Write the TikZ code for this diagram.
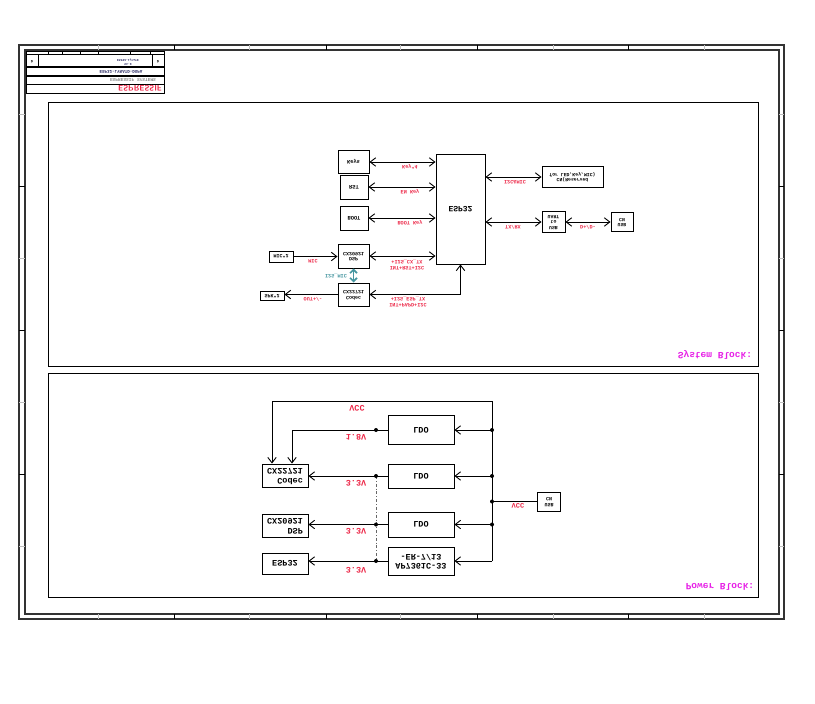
\documentclass[tikz,border=0pt]{standalone}
\usepackage{fontspec}
\usepackage{graphicx}
\usetikzlibrary{arrows.meta}
\newfontfamily\mono{Liberation Mono}
\definecolor{lred}{RGB}{236,40,72}
\definecolor{mag}{RGB}{230,30,230}
\definecolor{tealc}{RGB}{70,150,160}
\definecolor{navy}{RGB}{30,30,90}
\newcommand\upsd[1]{\scalebox{1}[-1]{#1}}
\newcommand\stk[1]{\begin{tabular}{@{}c@{}}#1\end{tabular}}
\newcommand\rstk[1]{\begin{tabular}{@{}r@{}}#1\end{tabular}}
\tikzset{
  box/.style={draw, line width=1pt, inner sep=0pt, font=\mono\bfseries\fontsize{5.4}{5.9}\selectfont},
  pbox/.style={box, line width=0.9pt, font=\mono\bfseries\fontsize{8.5}{9.5}\selectfont},
  lab/.style={text=lred, inner sep=0pt, font=\mono\bfseries\fontsize{5.2}{5.8}\selectfont},
  plab/.style={lab, font=\mono\bfseries\fontsize{8.5}{9.5}\selectfont},
  ttl/.style={text=mag, inner sep=0pt, font=\mono\bfseries\fontsize{9.5}{10}\selectfont},
  wire/.style={line width=0.9pt},
  dot/.style={circle, fill=black, inner sep=0pt, minimum size=4pt},
  >={Straight Barb[length=5.5pt,width=8.5pt]}
}
\begin{document}
\begin{tikzpicture}[x=1pt,y=-1pt]
\useasboundingbox (0,0) rectangle (815,704);
% ---------------- frame
\draw[line width=1.2pt, black!80] (19,45) rectangle (784,619);
\draw[line width=1.2pt, black!80] (25,50) rectangle (779,614);
\foreach \x in {174,326,477,628} {
  \draw[line width=0.8pt] (\x,45) -- (\x,50);
  \draw[line width=0.8pt] (\x,614) -- (\x,619);
}
\foreach \x in {98,249,400,553,704} {
  \draw[line width=0.8pt, black!25] (\x,45) -- (\x,50);
  \draw[line width=0.8pt, black!25] (\x,614) -- (\x,619);
}
\foreach \y in {186,330,474} {
  \draw[line width=0.8pt] (19,\y) -- (25,\y);
  \draw[line width=0.8pt] (779,\y) -- (784,\y);
}
\foreach \y in {114,258,402,546} {
  \draw[line width=0.8pt, black!25] (19,\y) -- (25,\y);
  \draw[line width=0.8pt, black!25] (779,\y) -- (784,\y);
}
% ---------------- title block
\draw[line width=1pt] (26,51) rectangle (164,93);
\draw[line width=0.6pt] (26,54.5) -- (164,54.5);
\draw[line width=1.4pt] (26,67) -- (164,67);
\draw[line width=1.4pt] (26,76) -- (164,76);
\draw[line width=1pt] (26,84) -- (164,84);
\draw[line width=1pt] (38,54.5) -- (38,67);
\draw[line width=1pt] (152,54.5) -- (152,67);
\foreach \x in {48,62,80,98,130,150} \draw[line width=0.5pt] (\x,51) -- (\x,54.5);
\node[inner sep=0pt, font=\mono\bfseries\fontsize{3.5}{4}\selectfont] (tD1) at (32,62) {\upsd{D}};
\node[inner sep=0pt, font=\mono\bfseries\fontsize{3.5}{4}\selectfont] (tD2) at (158,62) {\upsd{D}};
\node[inner sep=0pt, font=\mono\bfseries\fontsize{3}{3.5}\selectfont, text=navy] (tsub) at (128,62) {\upsd{\stk{V1.0\\ESP32-LyraTD}}};
\node[inner sep=0pt, font=\mono\bfseries\fontsize{4.2}{5}\selectfont, text=navy] (tname) at (121,72) {\upsd{ESP32-LYRATD-DSPA}};
\node[inner sep=0pt, font=\mono\bfseries\fontsize{4.5}{5}\selectfont, text=black!45] (tgray) at (133,80) {\upsd{ESPRESSIF SYSTEMS}};
\node[inner sep=0pt, font=\sffamily\bfseries\fontsize{8}{8}\selectfont, text=lred] (tlogo) at (140,88.5) {\upsd{ESPRESSIF}};
% ---------------- block outlines
\draw[line width=0.7pt] (48,102) rectangle (758,366);
\draw[line width=0.7pt] (48,373) rectangle (758,597);
\node[ttl] (sysT) at (715,355) {\upsd{System Block:}};
\node[ttl] (powT) at (720,587) {\upsd{Power Block:}};
% ---------------- system block
\node[box, minimum width=49pt, minimum height=110pt, font=\mono\bfseries\fontsize{8}{8}\selectfont] (esp) at (460.5,209) {\upsd{ESP32}};
\node[box, minimum width=31pt, minimum height=23pt] (keys) at (353.5,162) {\upsd{Keys}};
\node[box, minimum width=28pt, minimum height=24pt] (rst) at (354,187) {\upsd{RST}};
\node[box, minimum width=28pt, minimum height=24pt] (boot) at (354,218) {\upsd{BOOT}};
\node[box, minimum width=31pt, minimum height=24pt, font=\mono\bfseries\fontsize{5}{5.6}\selectfont] (dsp) at (353.5,256) {\upsd{\stk{DSP\\CX20921}}};
\node[box, minimum width=31pt, minimum height=23pt, font=\mono\bfseries\fontsize{5}{5.6}\selectfont] (codec) at (353.5,294.5) {\upsd{\stk{Codec\\CX22721}}};
\node[box, minimum width=24pt, minimum height=11pt, font=\mono\bfseries\fontsize{5}{5.6}\selectfont] (mic) at (281,256.5) {\upsd{MIC*2}};
\node[box, minimum width=24pt, minimum height=9pt, font=\mono\bfseries\fontsize{5}{5.6}\selectfont] (spk) at (272,296) {\upsd{SPK*2}};
\node[box, minimum width=61pt, minimum height=21pt, font=\mono\bfseries\fontsize{4.8}{5.6}\selectfont] (cnr) at (572.5,177) {\upsd{\stk{CN(Reserved\\for LED,Key,MIC)}}};
\node[box, minimum width=23pt, minimum height=21pt, font=\mono\bfseries\fontsize{4.8}{5.6}\selectfont] (uart) at (553.5,222) {\upsd{\stk{USB\\to\\UART}}};
\node[box, minimum width=22pt, minimum height=19pt, font=\mono\bfseries\fontsize{4.8}{5.6}\selectfont] (usbcn) at (622,222) {\upsd{\stk{USB\\CN}}};

\draw[wire,<->] (keys.east) -- (keys.east -| esp.west);
\draw[wire,<->] (rst.east) -- (rst.east -| esp.west);
\draw[wire,<->] (boot.east) -- (boot.east -| esp.west);
\draw[wire,<->] (dsp.east) -- (dsp.east -| esp.west);
\draw[wire,<->] (codec.east) -| (esp.south);
\draw[wire,->] (mic.east) -- (mic.east -| dsp.west);
\draw[wire,->] (codec.west) -- (codec.west -| spk.east);
\draw[line width=1.6pt, tealc, {Straight Barb[length=3.5pt,width=7pt]}-{Straight Barb[length=3.5pt,width=7pt]}] (dsp.south) -- (codec.north);
\draw[wire,<->] (cnr.west -| esp.east) -- (cnr.west);
\draw[wire,<->] (uart.west -| esp.east) -- (uart.west);
\draw[wire,<->] (uart.east) -- (usbcn.west);

\node[lab] (lk) at (410,167) {\upsd{Key*4}};
\node[lab] (lr) at (410,192) {\upsd{EN Key}};
\node[lab] (lb) at (410,223) {\upsd{BOOT Key}};
\node[lab] (ld) at (407,265) {\upsd{\stk{INT+RST+I2C\\+I2S\_CX\_TX}}};
\node[lab] (lc) at (408,302) {\upsd{\stk{INT+PAPD+I2C\\+I2S\_ESP\_TX}}};
\node[lab] (lm) at (313,261) {\upsd{MIC}};
\node[lab] (lo) at (313,299) {\upsd{OUT+/-}};
\node[lab, text=tealc] (li) at (336,276) {\upsd{I2S\_MIC}};
\node[lab] (lic) at (515,182) {\upsd{I2C\&MIC}};
\node[lab] (ltx) at (513,227) {\upsd{TX/RX}};
\node[lab] (ldd) at (588,227) {\upsd{D+/D-}};

% ---------------- power block
\node[pbox, minimum width=66pt, minimum height=29pt] (ldoA) at (421,430) {\upsd{LDO}};
\node[pbox, minimum width=66pt, minimum height=24pt] (ldoB) at (421,476) {\upsd{LDO}};
\node[pbox, minimum width=66pt, minimum height=25pt] (ldoC) at (421,524.5) {\upsd{LDO}};
\node[pbox, minimum width=66pt, minimum height=28pt] (ap) at (421,561) {\upsd{\stk{AP7361C-33\\-ER-7/13}}};
\node[pbox, minimum width=46pt, minimum height=23pt] (pcodec) at (285,475.5) {\upsd{\rstk{Codec\\CX22721}}};
\node[pbox, minimum width=46pt, minimum height=23pt] (pdsp) at (285,525.5) {\upsd{\rstk{DSP\\CX20921}}};
\node[pbox, minimum width=46pt, minimum height=21pt] (pesp) at (285,563.5) {\upsd{ESP32}};
\node[box, minimum width=23pt, minimum height=19pt, font=\mono\bfseries\fontsize{5}{5.8}\selectfont] (pusb) at (549,501.5) {\upsd{\stk{USB\\CN}}};

\coordinate (bt) at (492,401);
\coordinate (vl) at (272,401);
\coordinate (c18) at (292,430);
\draw[wire,->] (ap.east -| bt) -- (bt) -- (vl) -- (vl |- pcodec.north);
\draw[wire,->] (ldoA.east -| bt) -- (ldoA.east);
\draw[wire,->] (ldoB.east -| bt) -- (ldoB.east);
\draw[wire,->] (ldoC.east -| bt) -- (ldoC.east);
\draw[wire,->] (ap.east -| bt) -- (ap.east);
\draw[wire] (pusb.west) -- (pusb.west -| bt);
\draw[wire,->] (ldoA.west) -- (c18) -- (c18 |- pcodec.north);
\draw[wire,->] (ldoB.west) -- (ldoB.west -| pcodec.east);
\draw[wire,->] (ldoC.west) -- (ldoC.west -| pdsp.east);
\draw[wire,->] (ap.west) -- (ap.west -| pesp.east);
\coordinate (dtop) at (376,476);
\draw[black!60, line width=0.7pt, dash dot] (dtop) -- (dtop |- ap.west);

\foreach \n in {ldoA,ldoB,ldoC,pusb} \node[dot] at (\n.east -| bt) {};
\node[dot] (dA) at (376,430) {};
\node[dot] (dB) at (376,476) {};
\node[dot] (dC) at (376,524.5) {};
\node[dot] (dD) at (376,561) {};

\node[plab] (pv1) at (357,408) {\upsd{VCC}};
\node[plab] (p18) at (356,437) {\upsd{1.8V}};
\node[plab] (p33a) at (356,483) {\upsd{3.3V}};
\node[plab] (p33b) at (356,531) {\upsd{3.3V}};
\node[plab] (p33c) at (356,570) {\upsd{3.3V}};
\node[lab, font=\mono\bfseries\fontsize{7}{8}\selectfont] (pv2) at (518,506) {\upsd{VCC}};
\end{tikzpicture}
\end{document}
